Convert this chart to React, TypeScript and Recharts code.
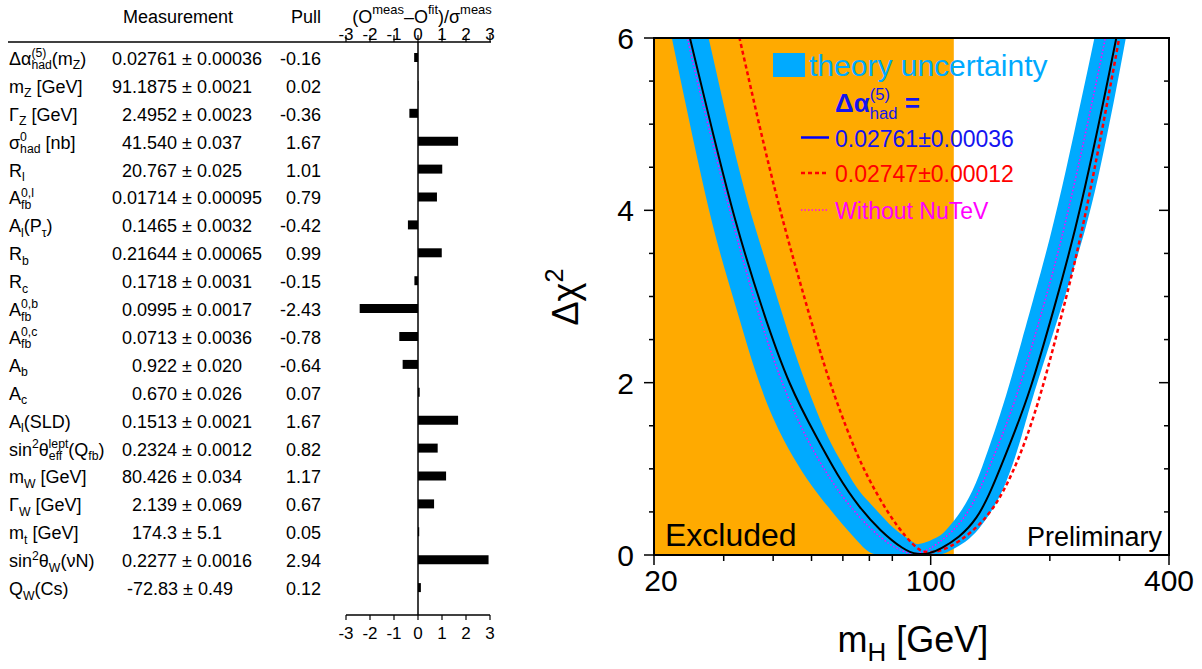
import React from "react";
import {
  ComposedChart,
  Bar,
  Area,
  Line,
  XAxis,
  YAxis,
  ReferenceLine,
  Customized,
} from "recharts";

const FONT = "'Liberation Sans', Arial, Helvetica, sans-serif";

// ---------- pull table ----------
const observables = [
  "Δα_{had}^{(5)}(m_{Z})",
  "m_{Z} [GeV]",
  "Γ_{Z} [GeV]",
  "σ_{had}^{0} [nb]",
  "R_{l}",
  "A_{fb}^{0,l}",
  "A_{l}(P_{τ})",
  "R_{b}",
  "R_{c}",
  "A_{fb}^{0,b}",
  "A_{fb}^{0,c}",
  "A_{b}",
  "A_{c}",
  "A_{l}(SLD)",
  "sin^{2}θ_{eff}^{lept}(Q_{fb})",
  "m_{W} [GeV]",
  "Γ_{W} [GeV]",
  "m_{t} [GeV]",
  "sin^{2}θ_{W}(νN)",
  "Q_{W}(Cs)",
];

// leading blanks keep the digit columns lined up like the printed table
const measurements = [
  "0.02761 ± 0.00036",
  "91.1875 ± 0.0021",
  "  2.4952 ± 0.0023",
  "  41.540 ± 0.037",
  "  20.767 ± 0.025",
  "0.01714 ± 0.00095",
  "  0.1465 ± 0.0032",
  "0.21644 ± 0.00065",
  "  0.1718 ± 0.0031",
  "  0.0995 ± 0.0017",
  "  0.0713 ± 0.0036",
  "    0.922 ± 0.020",
  "    0.670 ± 0.026",
  "  0.1513 ± 0.0021",
  "  0.2324 ± 0.0012",
  "  80.426 ± 0.034",
  "    2.139 ± 0.069",
  "    174.3 ± 5.1",
  "  0.2277 ± 0.0016",
  "   -72.83 ± 0.49",
];

const pulls = [
  -0.16, 0.02, -0.36, 1.67, 1.01, 0.79, -0.42, 0.99, -0.15, -2.43, -0.78, -0.64,
  0.07, 1.67, 0.82, 1.17, 0.67, 0.05, 2.94, 0.12,
];

const pullTicks = [-3, -2, -1, 0, 1, 2, 3];

// ---------- Δχ² vs m_H ----------
const massTicks = [20, 30, 40, 50, 60, 70, 80, 90, 100, 200, 300, 400];
const massLabels = [20, 100, 400];
const chi2Ticks = [0, 0.5, 1, 1.5, 2, 2.5, 3, 3.5, 4, 4.5, 5, 5.5, 6];
const chi2Labels = [0, 2, 4, 6];
const lepLimit = 114.4;

// theory uncertainty band: lower / upper Δχ² at each mass
const bandMass = [
  20, 22, 24, 26, 28, 30, 33, 36, 40, 45, 50, 55, 60, 65, 70, 75, 80, 85, 90, 92,
  95, 100, 106, 110, 120, 130, 140, 150, 160, 170, 180, 200, 220, 240, 260, 280,
  300, 320, 340,
];
const bandLow = [
  7.0, 6.08, 5.25, 4.5, 3.85, 3.35, 2.72, 2.12, 1.56, 1.12, 0.8, 0.56, 0.35, 0.17,
  0.01, 0, 0, 0, 0, 0, 0, 0, 0, 0.03, 0.12, 0.25, 0.45, 0.68, 1.0, 1.38, 1.8,
  2.45, 3.05, 3.6, 4.2, 4.9, 5.6, 6.3, 7.0,
];
const bandHigh = [
  8.8, 7.9, 7.15, 6.48, 5.84, 5.22, 4.41, 3.79, 3.14, 2.38, 1.81, 1.35, 1.05, 0.77,
  0.61, 0.46, 0.32, 0.23, 0.15, 0.12, 0.13, 0.17, 0.22, 0.3, 0.51, 0.81, 1.23,
  1.63, 2.06, 2.49, 2.9, 3.66, 4.47, 5.28, 6.02, 6.76, 7.5, 8.15, 8.8,
];

// Δα_had = 0.02761 ± 0.00036
const fitMass = [
  22, 24.6, 28, 31.9, 37.8, 44, 51.6, 58, 66, 74.6, 85.4, 92.5, 100, 105.8, 118,
  131, 141.5, 159, 178.6, 204.6, 236.8, 295.3, 330,
];
const fitChi2 = [
  7.0, 6.0, 4.95, 3.89, 2.8, 1.95, 1.36, 0.93, 0.55, 0.28, 0.06, 0.0, 0.02, 0.07,
  0.2, 0.42, 0.72, 1.3, 1.9, 2.85, 3.89, 6.0, 7.2,
];

// Δα_had = 0.02747 ± 0.00012
const altMass = [
  30, 32.9, 38, 43, 48.7, 55.2, 63.8, 67.7, 74, 82.2, 90.5, 96, 105.8, 118, 136,
  152.9, 171.8, 191.1, 214.8, 243.6, 300, 330,
];
const altChi2 = [
  6.8, 6.0, 4.72, 3.75, 2.88, 2.02, 1.26, 1.0, 0.66, 0.33, 0.11, 0.02, 0.04, 0.15,
  0.38, 0.72, 1.25, 1.9, 2.8, 3.8, 6.0, 7.1,
];

// without NuTeV
const noNutevMass = [
  22, 24.1, 28, 31.6, 37, 43, 49.1, 55.7, 62, 70.4, 80, 89.5, 96, 103.7, 118.8,
  131, 150, 165.4, 189.3, 221.2, 275.5, 300,
];
const noNutevChi2 = [
  7.1, 6.0, 4.82, 3.85, 2.72, 1.87, 1.3, 0.88, 0.58, 0.3, 0.09, 0.0, 0.03, 0.12,
  0.35, 0.67, 1.33, 1.85, 2.75, 3.88, 5.95, 6.85,
];

// ---------- helpers ----------
const WIDTHS: Record<string, number> = {
  " ": 0.278, "(": 0.333, ")": 0.333, "[": 0.278, "]": 0.278, ",": 0.278, ".": 0.278,
  "-": 0.333, "/": 0.278, "=": 0.584, "±": 0.584,
  A: 0.667, B: 0.667, C: 0.722, D: 0.722, E: 0.667, G: 0.778, H: 0.722, I: 0.278,
  L: 0.556, M: 0.833, N: 0.722, O: 0.778, P: 0.667, Q: 0.778, R: 0.722, S: 0.667,
  T: 0.611, V: 0.667, W: 0.944, Z: 0.611,
  c: 0.5, f: 0.278, i: 0.222, j: 0.222, k: 0.5, l: 0.222, m: 0.833, r: 0.333,
  s: 0.5, t: 0.278, v: 0.5, w: 0.722, x: 0.5, y: 0.5, z: 0.5,
  "α": 0.58, "θ": 0.56, "τ": 0.44, "σ": 0.6, "ν": 0.5, "Δ": 0.67, "Γ": 0.56, "χ": 0.55,
};
const textWidth = (s: string, size: number) =>
  [...s].reduce((w, c) => w + (WIDTHS[c] ?? 0.556), 0) * size;

// text with _{sub} and ^{sup} pieces; a sub directly followed by a sup is stacked
function Rich({
  x, y, src, size, anchor = "start", fill = "#000", weight = "normal",
  scale = 0.68, sub = 0.25, sup = 0.42, rotate,
}: {
  x: number; y: number; src: string; size: number; anchor?: string; fill?: string;
  weight?: string; scale?: number; sub?: number; sup?: number; rotate?: number;
}) {
  const parts = src.split(/(_\{[^}]*\}|\^\{[^}]*\})/).filter((p) => p !== "");
  const ss = size * scale;
  let shift = 0;
  let lastW = 0;
  let pending = 0;
  let prevScript = false;
  const spans = parts.map((p, i) => {
    const isSub = p.startsWith("_{");
    const isSup = p.startsWith("^{");
    if (isSub || isSup) {
      const t = p.slice(2, -1);
      const target = isSub ? size * sub : -size * sup;
      const dy = target - shift;
      shift = target;
      const w = textWidth(t, ss);
      let dx = 0;
      if (prevScript) {
        dx = -lastW;
        pending = Math.max(0, lastW - w);
        prevScript = false;
      } else {
        prevScript = true;
        pending = 0;
      }
      lastW = w;
      return (
        <tspan key={i} dx={dx || undefined} dy={dy} fontSize={ss} fontWeight="normal">
          {t}
        </tspan>
      );
    }
    const dy = -shift;
    shift = 0;
    prevScript = false;
    const dx = pending;
    pending = 0;
    return (
      <tspan key={i} dx={dx || undefined} dy={dy || undefined}>
        {p}
      </tspan>
    );
  });
  return (
    <text
      x={x}
      y={y}
      fontSize={size}
      textAnchor={anchor as any}
      fill={fill}
      fontWeight={weight}
      style={{ whiteSpace: "pre" }}
      transform={rotate ? `rotate(${rotate},${x},${y})` : undefined}
    >
      {spans}
    </text>
  );
}

// ---------- left panel ----------
const pullRows = observables.map((name, i) => ({
  name,
  meas: measurements[i],
  pull: pulls[i],
}));

function TableRow(props: any) {
  const { y, index } = props;
  const base = y + 7;
  return (
    <g>
      <Rich x={9} y={base} src={observables[index]} size={18} />
      <text x={112} y={base} fontSize={18} fill="#000" style={{ whiteSpace: "pre" }}>
        {measurements[index]}
      </text>
      <text x={321} y={base} fontSize={18} fill="#000" textAnchor="end">
        {pulls[index].toFixed(2)}
      </text>
    </g>
  );
}

function PullTickTop(props: any) {
  const { x, y, payload } = props;
  return (
    <g>
      <line x1={x} x2={x} y1={y} y2={y - 7} stroke="#000" strokeWidth={1.2} />
      <text x={x} y={y - 2} fontSize={17} textAnchor="middle" fill="#000">
        {payload.value}
      </text>
    </g>
  );
}

function PullTickBottom(props: any) {
  const { x, y, payload } = props;
  return (
    <g>
      <line x1={x} x2={x} y1={y} y2={y + 5} stroke="#000" strokeWidth={1.2} />
      <text x={x} y={y + 24} fontSize={17} textAnchor="middle" fill="#000">
        {payload.value}
      </text>
    </g>
  );
}

function TableHeader() {
  return (
    <g>
      <text x={178} y={23} fontSize={18} textAnchor="middle" fill="#000">
        Measurement
      </text>
      <text x={321} y={23} fontSize={18} textAnchor="end" fill="#000">
        Pull
      </text>
      <Rich x={422} y={23} src="(O^{meas}–O^{fit})/σ^{meas}" size={18} anchor="middle" scale={0.72} sup={0.5} />
      <line x1={8} x2={491} y1={42} y2={42} stroke="#000" strokeWidth={1.3} />
    </g>
  );
}

function PullPanel() {
  return (
    <ComposedChart
      width={520}
      height={669}
      layout="vertical"
      data={pullRows}
      margin={{ top: 12, right: 30, bottom: 24, left: 0 }}
    >
      <XAxis
        xAxisId="top"
        orientation="top"
        type="number"
        domain={[-3, 3]}
        ticks={pullTicks}
        allowDataOverflow
        height={30}
        tickSize={0}
        tickMargin={0}
        axisLine={false}
        tick={<PullTickTop />}
      />
      <XAxis
        xAxisId="bottom"
        orientation="bottom"
        type="number"
        domain={[-3, 3]}
        ticks={pullTicks}
        allowDataOverflow
        height={30}
        tickSize={0}
        tickMargin={0}
        axisLine={{ stroke: "#000", strokeWidth: 1.3 }}
        tick={<PullTickBottom />}
      />
      <YAxis
        type="category"
        dataKey="name"
        width={346}
        interval={0}
        axisLine={false}
        tickLine={false}
        padding={{ top: 2, bottom: 13 }}
        tick={<TableRow />}
      />
      <Bar
        xAxisId="top"
        dataKey="pull"
        fill="#000"
        barSize={9}
        isAnimationActive={false}
      />
      <ReferenceLine xAxisId="top" x={0} stroke="#000" strokeWidth={1.5} />
      <Customized component={TableHeader} />
    </ComposedChart>
  );
}

// ---------- right panel ----------
const excludedRows = [
  { m: 20, ex: 6 },
  { m: lepLimit, ex: 6 },
];
const bandRows = bandMass.map((m, i) => ({ m, range: [bandLow[i], bandHigh[i]] }));
const fitRows = fitMass.map((m, i) => ({ m, c: fitChi2[i] }));
const altRows = altMass.map((m, i) => ({ m, c: altChi2[i] }));
const noNutevRows = noNutevMass.map((m, i) => ({ m, c: noNutevChi2[i] }));

function MassTick(props: any) {
  const { x, y, payload } = props;
  const major = massLabels.includes(payload.value);
  return (
    <g>
      <line x1={x} x2={x} y1={y} y2={y + (major ? 10 : 6)} stroke="#000" strokeWidth={1.5} />
      {major && (
        <text
          x={x + (payload.value === 20 ? 7 : 0)}
          y={y + 36}
          fontSize={30}
          textAnchor="middle"
          fill="#000"
        >
          {payload.value}
        </text>
      )}
    </g>
  );
}

function MassTickTop(props: any) {
  const { x, y, payload } = props;
  const major = massLabels.includes(payload.value);
  return <line x1={x} x2={x} y1={y} y2={y + (major ? 10 : 6)} stroke="#000" strokeWidth={1.5} />;
}

function Chi2Tick(props: any) {
  const { x, y, payload } = props;
  const major = chi2Labels.includes(payload.value);
  return (
    <g>
      <line x1={x} x2={x - (major ? 10 : 5)} y1={y} y2={y} stroke="#000" strokeWidth={1.5} />
      {major && (
        <text x={x - 20} y={y + 11} fontSize={30} textAnchor="end" fill="#000">
          {payload.value}
        </text>
      )}
    </g>
  );
}

function Chi2TickRight(props: any) {
  const { x, y, payload } = props;
  const major = chi2Labels.includes(payload.value);
  return <line x1={x} x2={x - (major ? 10 : 5)} y1={y} y2={y} stroke="#000" strokeWidth={1.5} />;
}

// plot frame, legend, region labels and axis titles, laid over the plot
function ChiOverlay() {
  return (
    <svg
      width={682}
      height={669}
      style={{ position: "absolute", left: 0, top: 0, pointerEvents: "none" }}
    >
      <rect x={134} y={38} width={515} height={517} fill="none" stroke="#000" strokeWidth={2} />
      <rect x={253} y={53} width={32} height={24} fill="#00aaff" />
      <text x={289} y={75.5} fontSize={30} fill="#00aaff">
        theory uncertainty
      </text>
      <Rich x={315} y={112} src="Δα_{had}^{(5)} =" size={26} weight="bold" fill="#1414f0" scale={0.64} sub={0.28} sup={0.46} />
      <line x1={281} x2={309} y1={137.5} y2={137.5} stroke="#0000ff" strokeWidth={2.5} />
      <text x={315} y={146.5} fontSize={23} fill="#1414f0">
        0.02761±0.00036
      </text>
      <line x1={281} x2={309} y1={173} y2={173} stroke="#ff0000" strokeWidth={2.5} strokeDasharray="4 3" />
      <text x={315} y={181.5} fontSize={23} fill="#ff0000">
        0.02747±0.00012
      </text>
      <line x1={281} x2={309} y1={210} y2={210} stroke="#ff00ff" strokeWidth={1.5} strokeDasharray="1.5 2" />
      <text x={315} y={218.5} fontSize={23} fill="#ff00ff">
        Without NuTeV
      </text>
      <text x={145} y={546} fontSize={32} fill="#000">
        Excluded
      </text>
      <text x={642} y={546} fontSize={27} textAnchor="end" fill="#000">
        Preliminary
      </text>
      <Rich x={58} y={297} src="Δχ^{2}" size={36} anchor="middle" rotate={-90} scale={0.7} />
      <Rich x={393} y={652} src="m_{H} [GeV]" size={36} anchor="middle" scale={0.72} sub={0.25} />
    </svg>
  );
}

function ChiPanel() {
  return (
    <div style={{ position: "relative", width: 682, height: 669 }}>
      <ComposedChart
        width={682}
        height={669}
        data={bandRows}
        margin={{ top: 37, right: 32, bottom: 54, left: 0 }}
      >
        <XAxis
          xAxisId="m"
          dataKey="m"
          type="number"
          scale="log"
          domain={[20, 400]}
          ticks={massTicks}
          allowDataOverflow
          height={60}
          tickSize={0}
          tickMargin={0}
          axisLine={false}
          tick={<MassTick />}
        />
        <XAxis
          xAxisId="mTop"
          orientation="top"
          type="number"
          scale="log"
          domain={[20, 400]}
          ticks={massTicks}
          allowDataOverflow
          height={1}
          tickSize={0}
          tickMargin={0}
          axisLine={false}
          tick={<MassTickTop />}
        />
        <YAxis
          yAxisId="c"
          type="number"
          domain={[0, 6]}
          ticks={chi2Ticks}
          allowDataOverflow
          width={134}
          tickSize={0}
          tickMargin={0}
          axisLine={false}
          tick={<Chi2Tick />}
        />
        <YAxis
          yAxisId="cRight"
          orientation="right"
          type="number"
          domain={[0, 6]}
          ticks={chi2Ticks}
          allowDataOverflow
          width={1}
          tickSize={0}
          tickMargin={0}
          axisLine={false}
          tick={<Chi2TickRight />}
        />
        <Area
          xAxisId="m"
          yAxisId="c"
          data={excludedRows}
          dataKey="ex"
          type="linear"
          fill="#ffaa00"
          fillOpacity={1}
          stroke="none"
          isAnimationActive={false}
        />
        <Area
          xAxisId="m"
          yAxisId="c"
          dataKey="range"
          type="basis"
          fill="#00aaff"
          fillOpacity={1}
          stroke="none"
          isAnimationActive={false}
        />
        <Line
          xAxisId="m"
          yAxisId="c"
          data={noNutevRows}
          dataKey="c"
          type="basis"
          stroke="#ff00ff"
          strokeWidth={1.5}
          strokeDasharray="1.5 2"
          dot={false}
          isAnimationActive={false}
        />
        <Line
          xAxisId="m"
          yAxisId="c"
          data={altRows}
          dataKey="c"
          type="basis"
          stroke="#ff0000"
          strokeWidth={2.5}
          strokeDasharray="4 3"
          dot={false}
          isAnimationActive={false}
        />
        <Line
          xAxisId="m"
          yAxisId="c"
          data={fitRows}
          dataKey="c"
          type="basis"
          stroke="#000"
          strokeWidth={2}
          dot={false}
          isAnimationActive={false}
        />
      </ComposedChart>
      <ChiOverlay />
    </div>
  );
}

export default function App() {
  return (
    <div
      style={{
        position: "absolute",
        left: 0,
        top: 0,
        width: 1202,
        height: 669,
        background: "#fff",
        fontFamily: FONT,
      }}
    >
      <div style={{ position: "absolute", left: 0, top: 0 }}>
        <PullPanel />
      </div>
      <div style={{ position: "absolute", left: 520, top: 0 }}>
        <ChiPanel />
      </div>
    </div>
  );
}
